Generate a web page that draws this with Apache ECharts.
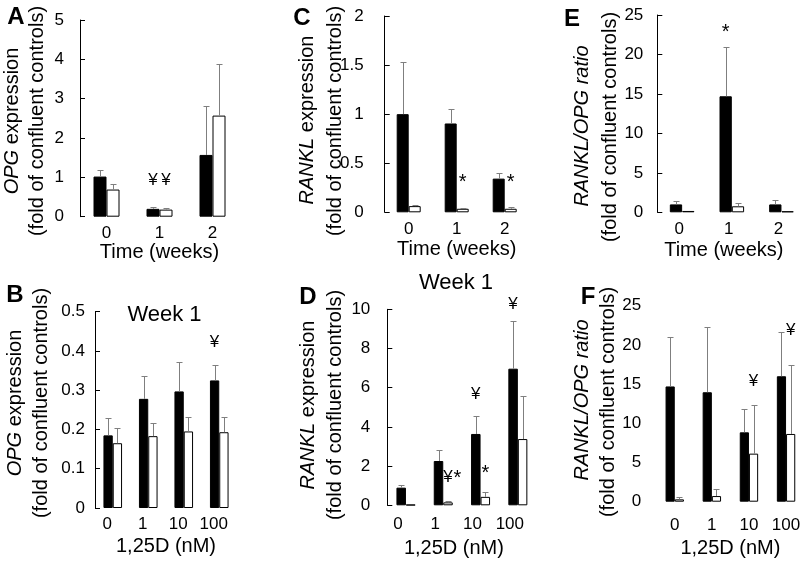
<!DOCTYPE html>
<html><head><meta charset="utf-8">
<script src="https://cdn.jsdelivr.net/npm/echarts@6/dist/echarts.min.js"></script>
<style>html,body{margin:0;padding:0;background:#fff}#c{width:800px;height:563px}</style>
</head><body><div id="c"></div>
<script>
// ---------- categories ----------
const timeCats = ['0', '1', '2'];
const doseCats = ['0', '1', '10', '100'];

// ---------- A: OPG expression vs time ----------
const opgTimeBlack = [1.02, 0.20, 1.57];
const opgTimeBlackSD = [0.17, 0.04, 1.25];
const opgTimeWhite = [0.69, 0.18, 2.57];
const opgTimeWhiteSD = [0.15, 0.04, 1.30];

// ---------- C: RANKL expression vs time ----------
const ranklTimeBlack = [1.00, 0.905, 0.343];
const ranklTimeBlackSD = [0.53, 0.145, 0.06];
const ranklTimeWhite = [0.063, 0.036, 0.036];
const ranklTimeWhiteSD = [0.015, 0.01, 0.022];

// ---------- E: RANKL/OPG ratio vs time ----------
const ratioTimeBlack = [1.0, 14.7, 1.0];
const ratioTimeBlackSD = [0.42, 6.27, 0.5];
const ratioTimeWhite = [0.17, 0.76, 0.13];
const ratioTimeWhiteSD = [0, 0.42, 0];

// ---------- B: OPG expression vs dose (week 1) ----------
const opgDoseBlack = [0.185, 0.278, 0.297, 0.325];
const opgDoseBlackSD = [0.043, 0.059, 0.075, 0.038];
const opgDoseWhite = [0.165, 0.183, 0.195, 0.193];
const opgDoseWhiteSD = [0.040, 0.034, 0.037, 0.039];

// ---------- D: RANKL expression vs dose (week 1) ----------
const ranklDoseBlack = [0.90, 2.26, 3.64, 6.97];
const ranklDoseBlackSD = [0.14, 0.56, 0.90, 2.43];
const ranklDoseWhite = [0.03, 0.15, 0.43, 3.38];
const ranklDoseWhiteSD = [0, 0.07, 0.27, 2.18];

// ---------- F: RANKL/OPG ratio vs dose ----------
const ratioDoseBlack = [14.7, 13.96, 8.85, 16.0];
const ratioDoseBlackSD = [6.28, 8.34, 2.95, 5.66];
const ratioDoseWhite = [0.30, 0.72, 6.13, 8.64];
const ratioDoseWhiteSD = [0.30, 0.85, 6.21, 8.76];

// ---------- significance marks: [category, value, bar side] ----------
const annA = [[1, 0.93, -1], [1, 0.93, 1]];
const annATexts = ['¥', '¥'];
const annC = [[1, 0.35, 1], [2, 0.35, 1]];
const annCTexts = ['*', '*'];
const annE = [[1, 23.4, -1]];
const annETexts = ['*'];
const annB = [[3, 0.421, -1]];
const annBTexts = ['¥'];
const annD = [[1, 1.41, 1], [1, 1.6, 3], [2, 5.68, -1], [2, 1.85, 1], [3, 10.26, -1]];
const annDTexts = ['¥', '*', '¥', '*', '¥'];
const annF = [[2, 15.3, 1], [3, 21.9, 1]];
const annFTexts = ['¥', '¥'];

const FONT = 'Liberation Sans, Arial, Helvetica, sans-serif';

const panels = [
  { letter: 'A', letterPos: [16, 17], grid: { left: 80, top: 20, width: 159, height: 196.7 }, bw: 13,
    cats: timeCats, black: opgTimeBlack, blackSD: opgTimeBlackSD, white: opgTimeWhite, whiteSD: opgTimeWhiteSD,
    yMax: 5, yInt: 1, yLine: true, yLabelMargin: 16, xLabelMargin: 8, xLabelPad: 0,
    xName: 'Time (weeks)', nameGap: 25, namePad: 0,
    yName1: '{i|OPG} expression', yPos1: [12, 121], yPos2: [37, 121],
    ann: annA, annTexts: annATexts },
  { letter: 'C', letterPos: [302, 18], grid: { left: 384.7, top: 16, width: 144, height: 196.3 }, bw: 12,
    cats: timeCats, black: ranklTimeBlack, blackSD: ranklTimeBlackSD, white: ranklTimeWhite, whiteSD: ranklTimeWhiteSD,
    yMax: 2, yInt: 0.5, yLine: true, yLabelMargin: 21, xLabelMargin: 9, xLabelPad: 0,
    xName: 'Time (weeks)', nameGap: 26, namePad: 0,
    yName1: '{i|RANKL} expression', yPos1: [307.5, 120], yPos2: [335, 121],
    ann: annC, annTexts: annCTexts },
  { letter: 'E', letterPos: [572, 19], grid: { left: 657.3, top: 15, width: 149, height: 197.3 }, bw: 12.3,
    cats: timeCats, black: ratioTimeBlack, blackSD: ratioTimeBlackSD, white: ratioTimeWhite, whiteSD: ratioTimeWhiteSD,
    yMax: 25, yInt: 5, yLine: true, yLabelMargin: 14, xLabelMargin: 9, xLabelPad: 6,
    xName: 'Time (weeks)', nameGap: 28, namePad: 16,
    yName1: '{i|RANKL/OPG ratio}', yPos1: [582, 126], yPos2: [610, 127],
    ann: annE, annTexts: annETexts },
  { letter: 'B', letterPos: [15, 295], grid: { left: 95, top: 311.7, width: 142, height: 196.3 }, bw: 9.3,
    cats: doseCats, black: opgDoseBlack, blackSD: opgDoseBlackSD, white: opgDoseWhite, whiteSD: opgDoseWhiteSD,
    yMax: 0.5, yInt: 0.1, yLine: true, yLabelMargin: 10, xLabelMargin: 8, xLabelPad: 11,
    xName: '1,25D (nM)', nameGap: 28, namePad: 0,
    yName1: '{i|OPG} expression', yPos1: [15, 403], yPos2: [41, 403],
    week: [164.5, 315],
    ann: annB, annTexts: annBTexts },
  { letter: 'D', letterPos: [308, 297], grid: { left: 387.3, top: 309.3, width: 149.2, height: 196 }, bw: 9.5,
    cats: doseCats, black: ranklDoseBlack, blackSD: ranklDoseBlackSD, white: ranklDoseWhite, whiteSD: ranklDoseWhiteSD,
    yMax: 10, yInt: 2, yLine: true, yLabelMargin: 17, xLabelMargin: 11, xLabelPad: 16,
    xName: '1,25D (nM)', nameGap: 33, namePad: 16,
    yName1: '{i|RANKL} expression', yPos1: [308, 405], yPos2: [335, 405],
    week: [456, 283],
    ann: annD, annTexts: annDTexts },
  { letter: 'F', letterPos: [588, 297], grid: { left: 656.2, top: 305.7, width: 148.4, height: 196 }, bw: 9.2,
    cats: doseCats, black: ratioDoseBlack, blackSD: ratioDoseBlackSD, white: ratioDoseWhite, whiteSD: ratioDoseWhiteSD,
    yMax: 25, yInt: 5, yLine: false, yLabelMargin: 15, xLabelMargin: 15, xLabelPad: 0,
    xName: '1,25D (nM)', nameGap: 36.6, namePad: 0,
    yName1: '{i|RANKL/OPG ratio}', yPos1: [582, 400], yPos2: [608, 402],
    ann: annF, annTexts: annFTexts }
];

const option = { animation: false, grid: [], xAxis: [], yAxis: [], series: [], graphic: [] };

panels.forEach((p, i) => {
  option.grid.push(Object.assign({ containLabel: false, outerBoundsMode: 'none' }, p.grid));
  option.xAxis.push({
    gridIndex: i, type: 'category', data: p.cats,
    axisLine: { show: false }, axisTick: { show: false }, splitLine: { show: false },
    axisLabel: { interval: 0, hideOverlap: false, margin: p.xLabelMargin, fontSize: 17, color: '#000', fontFamily: FONT, padding: [0, p.xLabelPad, 0, 0] },
    name: p.xName, nameLocation: 'middle', nameGap: p.nameGap,
    nameTextStyle: { fontSize: 20, color: '#000', fontFamily: FONT, padding: [0, p.namePad, 0, 0] }
  });
  option.yAxis.push({
    gridIndex: i, type: 'value', min: 0, max: p.yMax, interval: p.yInt,
    axisLine: { show: p.yLine, lineStyle: { color: '#000', width: 1 } },
    axisTick: { show: p.yLine, inside: true, length: 5, lineStyle: { color: '#000', width: 1 } },
    splitLine: { show: false },
    axisLabel: { margin: p.yLabelMargin, fontSize: 17, color: '#000', fontFamily: FONT,
      formatter: v => String(Math.round(v * 1000) / 1000) }
  });
  const common = { type: 'bar', xAxisIndex: i, yAxisIndex: i, barWidth: p.bw, barGap: '0%', silent: true };
  option.series.push(Object.assign({}, common, {
    data: p.black, itemStyle: { color: '#000', borderColor: '#000', borderWidth: 1 }
  }));
  option.series.push(Object.assign({}, common, {
    data: p.white, itemStyle: { color: '#fff', borderColor: '#000', borderWidth: 1 }
  }));
  const errData = p.black.map((v, k) => [k, v, p.blackSD[k], -1])
    .concat(p.white.map((v, k) => [k, v, p.whiteSD[k], 1]));
  const bw = p.bw;
  option.series.push({
    type: 'custom', xAxisIndex: i, yAxisIndex: i, data: errData, silent: true, z: 5, clip: false,
    renderItem: (params, api) => {
      const cat = api.value(0), v = api.value(1), e = api.value(2), side = api.value(3);
      if (!e) return null;
      const p0 = api.coord([cat, v]);
      const p1 = api.coord([cat, v + e]);
      const x = Math.round(p0[0] + side * bw / 2) + 0.5;
      const yt = Math.round(p1[1]) + 0.5;
      return { type: 'group', children: [
        { type: 'line', shape: { x1: x, y1: p0[1], x2: x, y2: yt }, style: { stroke: '#7f7f7f', lineWidth: 1 } },
        { type: 'line', shape: { x1: x - 3, y1: yt, x2: x + 3, y2: yt }, style: { stroke: '#7f7f7f', lineWidth: 1 } }
      ] };
    }
  });
  const texts = p.annTexts;
  option.series.push({
    type: 'custom', xAxisIndex: i, yAxisIndex: i, data: p.ann, silent: true, z: 6, clip: false,
    renderItem: (params, api) => {
      const t = texts[params.dataIndex];
      const pt = api.coord([api.value(0), api.value(1)]);
      const x = pt[0] + api.value(2) * bw / 2;
      const star = t === '*';
      const fs = star ? 20 : 17;
      return { type: 'text', x: x, y: pt[1] + (star ? 0.22 * fs : 0),
        style: { text: t, fill: '#000', fontSize: fs, fontFamily: FONT, align: 'center', verticalAlign: 'middle' } };
    }
  });

  // panel letter
  option.graphic.push({ type: 'text', x: p.letterPos[0], y: p.letterPos[1],
    style: { text: p.letter, fill: '#000', fontSize: 24, fontWeight: 'bold', fontFamily: FONT, align: 'center', verticalAlign: 'middle' } });
  // y-axis titles (rotated)
  option.graphic.push({ type: 'text', x: p.yPos1[0], y: p.yPos1[1], rotation: Math.PI / 2,
    style: { text: p.yName1, fill: '#000', fontSize: 20, fontFamily: FONT, align: 'center', verticalAlign: 'middle',
      rich: { i: { fontStyle: 'italic', fontSize: 20, fontFamily: FONT, fill: '#000' } } } });
  option.graphic.push({ type: 'text', x: p.yPos2[0], y: p.yPos2[1], rotation: Math.PI / 2,
    style: { text: '(fold of confluent controls)', fill: '#000', fontSize: 20, fontFamily: FONT, align: 'center', verticalAlign: 'middle' } });
  if (p.week) {
    option.graphic.push({ type: 'text', x: p.week[0], y: p.week[1],
      style: { text: 'Week 1', fill: '#000', fontSize: 22, fontFamily: FONT, align: 'center', verticalAlign: 'middle' } });
  }
});

const chart = echarts.init(document.getElementById('c'), null, { renderer: 'canvas' });
chart.setOption(option);
</script>
</body></html>
